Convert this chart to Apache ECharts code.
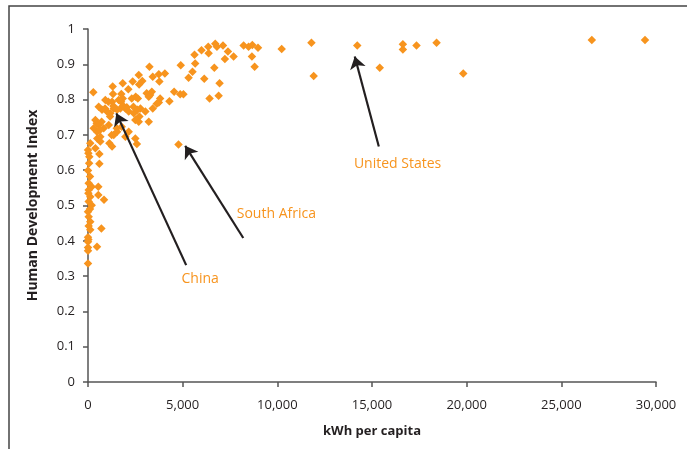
<!DOCTYPE html>
<html>
<head>
<meta charset="utf-8">
<script src="https://cdn.jsdelivr.net/npm/echarts@6/dist/echarts.min.js"></script>
<style>
html,body{margin:0;padding:0;background:#fff;}
#chart{width:687px;height:449px;}
</style>
</head>
<body>
<div id="chart"></div>
<script>
// kWh per capita (x) and Human Development Index (y)
var kwhPerCapita = [
  10230,11800,11920,14220,15410,16630,16630,17350,18410,19820,26610,29420,
  3245,4900,5625,5995,6350,6720,6810,7130,7390,7690,7230,6370,5660,5520,5310,6140,6670,6950,6420,6900,
  8220,8480,8680,8980,8660,8800,4550,4870,5040,4300,4780,4060,3740,3420,3770,2870,2680,2700,2360,1835,
  1305,2130,1320,1760,1835,1075,1745,2310,2520,2630,3100,3280,3370,3810,3740,3630,3420,2580,1130,282,
  915,1270,1620,3210,565,740,1005,1180,1360,1535,1710,1975,2150,2420,2500,2770,3030,3210,390,565,300,
  475,650,830,1095,1360,1535,1975,2150,2500,120,390,0,650,1270,900,1165,1340,1870,2050,2400,2610,2715,
  2680,1780,1520,1250,460,720,635,490,20,70,600,600,0,105,195,545,545,845,
  35,35,120,35,0,35,120,35,705,120,0,0,475,0,0,0,195,20,20,105,60
];
var hdiValues = [
  0.943,0.961,0.867,0.953,0.890,0.957,0.942,0.953,0.961,0.874,0.969,0.969,
  0.893,0.897,0.927,0.940,0.950,0.958,0.950,0.953,0.936,0.922,0.915,0.931,0.902,0.879,0.862,0.859,0.890,0.846,0.803,0.811,
  0.953,0.950,0.955,0.947,0.922,0.893,0.822,0.815,0.815,0.795,0.673,0.874,0.872,0.865,0.851,0.853,0.870,0.843,0.851,0.846,
  0.837,0.829,0.816,0.816,0.803,0.794,0.794,0.803,0.808,0.803,0.818,0.813,0.822,0.803,0.792,0.788,0.775,0.674,0.676,0.821,
  0.799,0.794,0.799,0.808,0.780,0.771,0.766,0.761,0.775,0.771,0.775,0.775,0.766,0.761,0.742,0.775,0.766,0.737,0.742,0.728,0.719,
  0.709,0.695,0.719,0.728,0.700,0.709,0.695,0.709,0.690,0.676,0.662,0.657,0.681,0.667,0.775,0.752,0.782,0.782,0.778,0.780,0.771,0.752,
  0.737,0.723,0.719,0.700,0.733,0.737,0.714,0.690,0.648,0.638,0.646,0.618,0.599,0.582,0.553,0.553,0.530,0.516,
  0.563,0.544,0.525,0.511,0.482,0.468,0.454,0.442,0.435,0.431,0.410,0.397,0.383,0.381,0.372,0.336,0.501,0.404,0.535,0.490,0.620
];
var xTicks = [0, 5000, 10000, 15000, 20000, 25000, 30000];
var yTicks = [0, 0.1, 0.2, 0.3, 0.4, 0.5, 0.6, 0.7, 0.8, 0.9, 1];

// annotations: label name, label position, arrow tail, arrow tip (data units)
var noteNames = ['China', 'South Africa', 'United States'];
var noteLabelX = [5926, 9947, 16350];
var noteLabelY = [0.292, 0.476, 0.618];
var arrowTailX = [5185, 8201, 15360];
var arrowTailY = [0.331, 0.408, 0.667];
var arrowTipX = [1497, 5132, 14090];
var arrowTipY = [0.761, 0.669, 0.922];

var points = kwhPerCapita.map(function (x, i) { return [x, hdiValues[i]]; });
var arrows = noteNames.map(function (n, i) {
  return [{ coord: [arrowTailX[i], arrowTailY[i]] }, { coord: [arrowTipX[i], arrowTipY[i]] }];
});
var notes = noteNames.map(function (n, i) {
  return { name: n, coord: [noteLabelX[i], noteLabelY[i]] };
});

var orange = '#F7941E';
var dark = '#231F20';
var font = '"Open Sans", "Noto Sans", sans-serif';

var chart = echarts.init(document.getElementById('chart'), null, { renderer: 'canvas' });
chart.setOption({
  animation: false,
  backgroundColor: '#fff',
  textStyle: { fontFamily: font },
  grid: { left: 88, right: 31, top: 29, bottom: 67, containLabel: false },
  graphic: [{
    type: 'rect', silent: true, z: 0,
    shape: { x: 9, y: 6, width: 720, height: 480 },
    style: { fill: 'none', stroke: '#444', lineWidth: 1.5 }
  }],
  xAxis: {
    type: 'value', min: xTicks[0], max: xTicks[xTicks.length - 1], interval: 5000,
    name: 'kWh per capita', nameLocation: 'middle', nameGap: 43,
    nameTextStyle: { fontFamily: font, fontSize: 13, fontWeight: 'bold', color: dark },
    axisLine: { show: true, onZero: false, lineStyle: { color: '#555', width: 1.5 } },
    axisTick: { show: true, length: 5, lineStyle: { color: '#555', width: 1.5 } },
    axisLabel: {
      margin: 17, fontFamily: font, fontSize: 13, color: dark,
      formatter: function (v) { return v.toLocaleString('en-US'); }
    },
    splitLine: { show: false }
  },
  yAxis: {
    type: 'value', min: yTicks[0], max: yTicks[yTicks.length - 1], interval: 0.1,
    name: 'Human Development Index', nameLocation: 'middle', nameGap: 48, nameRotate: 90,
    nameTextStyle: { fontFamily: font, fontSize: 14, fontWeight: 'bold', color: dark },
    axisLine: { show: true, onZero: false, lineStyle: { color: '#555', width: 1.5 } },
    axisTick: { show: true, length: 5, lineStyle: { color: '#555', width: 1.5 } },
    axisLabel: {
      margin: 13, fontFamily: font, fontSize: 13, color: dark,
      formatter: function (v) { return String(Math.round(v * 10) / 10); }
    },
    splitLine: { show: false }
  },
  series: [{
    type: 'scatter',
    data: points,
    symbol: 'diamond',
    symbolSize: 8.5,
    itemStyle: { color: orange, opacity: 1 },
    z: 3,
    markLine: {
      silent: true,
      symbol: ['none', 'arrow'],
      symbolSize: 12,
      lineStyle: { color: dark, width: 2.2, type: 'solid' },
      label: { show: false },
      data: arrows,
      z: 4
    },
    markPoint: {
      silent: true,
      symbol: 'circle',
      symbolSize: 0,
      label: {
        show: true, position: 'inside', formatter: '{b}',
        fontFamily: font, fontSize: 14, color: orange
      },
      itemStyle: { color: 'transparent' },
      data: notes
    }
  }]
});
</script>
</body>
</html>
